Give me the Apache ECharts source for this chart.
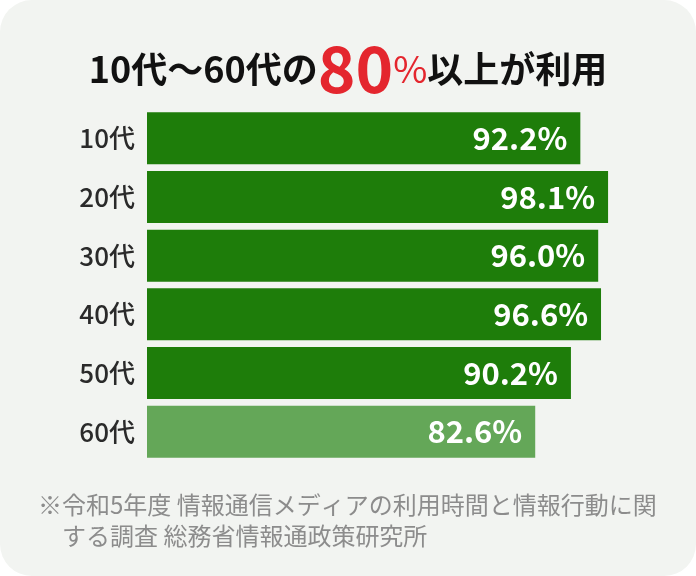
<!DOCTYPE html>
<html>
<head>
<meta charset="utf-8">
<script src="https://cdn.jsdelivr.net/npm/echarts@6/dist/echarts.min.js"></script>
<style>
  html, body { margin: 0; padding: 0; background: #fff; }
  #main { width: 696px; height: 576px; background: #f2f4f1; border-radius: 32px; overflow: hidden; }
</style>
</head>
<body>
<div id="main"></div>
<script>
// 年代別の利用率
const ages = ['10代', '20代', '30代', '40代', '50代', '60代']
const rates = [92.2, 98.1, 96.0, 96.6, 90.2, 82.6]
const barColors = ['#1e7d0a', '#1e7d0a', '#1e7d0a', '#1e7d0a', '#1e7d0a', '#64a758']
const note = '※令和5年度 情報通信メディアの利用時間と情報行動に関\n\u3000する調査 総務省情報通政策研究所'

const FONT = '"Noto Sans CJK JP", "Noto Sans", sans-serif'

const chart = echarts.init(document.getElementById('main'))

const option = {
    backgroundColor: 'transparent',
    title: [
        {
            left: 'center',
            top: 32,
            text: '{a|10代〜60代の}{r|80}{p|%}{a|以上が利用}',
            textStyle: {
                rich: {
                    a: { fontFamily: FONT, fontSize: 36, fontWeight: 'bold', color: '#111' },
                    r: { fontFamily: FONT, fontSize: 64, fontWeight: 'bold', color: '#e4262e' },
                    p: { fontFamily: FONT, fontSize: 37, fontWeight: 'normal', color: '#e4262e' }
                }
            }
        },
        {
            left: 33,
            top: 484,
            text: note,
            textStyle: {
                fontFamily: FONT,
                fontSize: 24,
                fontWeight: 'normal',
                color: '#8c8c8c',
                lineHeight: 31
            }
        }
    ],
    grid: { left: 147, top: 109, width: 470, height: 352, containLabel: false },
    xAxis: {
        type: 'value',
        min: 0,
        max: 100,
        show: false
    },
    yAxis: {
        type: 'category',
        data: ages,
        inverse: true,
        axisLine: { show: false },
        axisTick: { show: false },
        axisLabel: {
            fontFamily: FONT,
            fontSize: 26,
            fontWeight: 500,
            color: '#2a2a2a',
            margin: 12
        }
    },
    series: [
        {
            type: 'bar',
            barWidth: 52,
            data: rates.map((v, i) => ({ value: v, itemStyle: { color: barColors[i] } })),
            label: {
                show: true,
                position: 'insideRight',
                distance: 13,
                formatter: (p) => p.value.toFixed(1) + '%',
                fontFamily: FONT,
                fontSize: 31,
                fontWeight: 'bold',
                color: '#fff'
            },
            animation: false
        }
    ]
}

chart.setOption(option)
</script>
</body>
</html>
